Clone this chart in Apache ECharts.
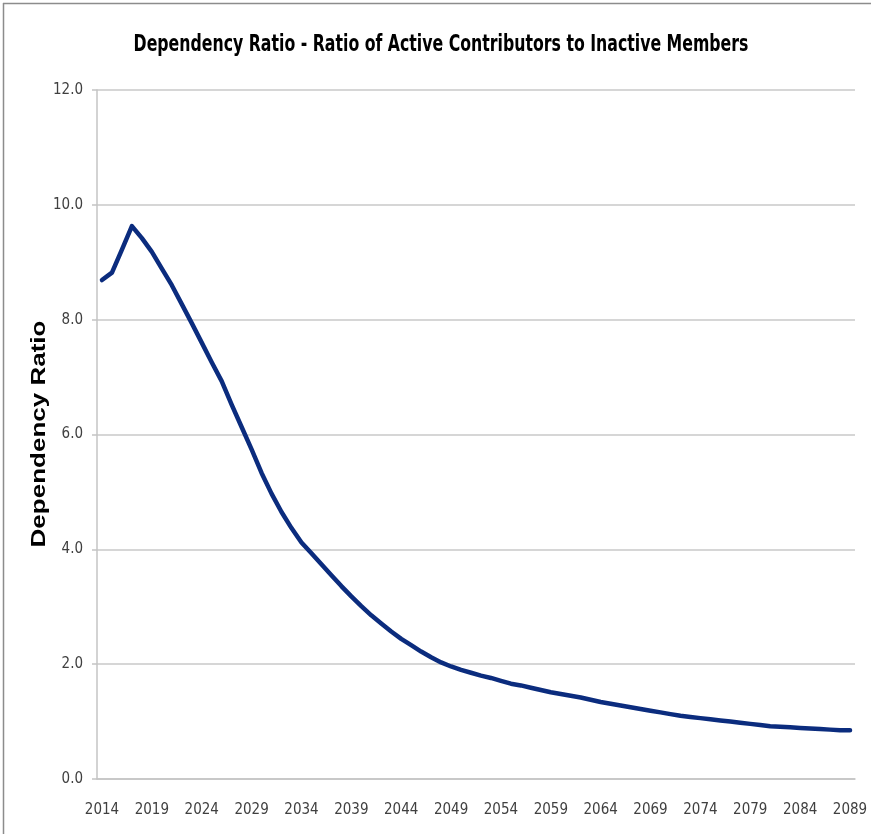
<!DOCTYPE html>
<html>
<head>
<meta charset="utf-8">
<script src="https://cdn.jsdelivr.net/npm/echarts@6/dist/echarts.min.js"></script>
<style>
  html, body { margin: 0; padding: 0; background: #fff; }
  #chart { width: 871px; height: 834px; }
</style>
</head>
<body>
<div id="chart"></div>
<script>
// Projection years 2014-2089
const years = [];
for (let y = 2014; y <= 2089; y++) years.push(String(y));

// Ratio of active contributors to inactive members, one value per year
const dependencyRatio = [
  8.69, 8.82, 9.22, 9.63, 9.42, 9.18, 8.89, 8.60, 8.27, 7.94,
  7.60, 7.26, 6.93, 6.52, 6.13, 5.74, 5.33, 4.97, 4.65, 4.37,
  4.12, 3.93, 3.74, 3.55, 3.36, 3.18, 3.01, 2.85, 2.71, 2.57,
  2.44, 2.33, 2.22, 2.12, 2.03, 1.96, 1.90, 1.85, 1.80, 1.76,
  1.71, 1.66, 1.63, 1.59, 1.55, 1.51, 1.48, 1.45, 1.42, 1.38,
  1.34, 1.31, 1.28, 1.25, 1.22, 1.19, 1.16, 1.13, 1.10, 1.08,
  1.06, 1.04, 1.02, 1.00, 0.98, 0.96, 0.94, 0.92, 0.91, 0.90,
  0.89, 0.88, 0.87, 0.86, 0.85, 0.85
];

const yTicks = { min: 0, max: 12, step: 2 };
const chartTitle = 'Dependency Ratio - Ratio of Active Contributors to Inactive Members';
const yAxisTitle = 'Dependency Ratio';

const narrowFont = '"Liberation Sans Narrow", "DejaVu Sans Condensed", sans-serif';

const chart = echarts.init(document.getElementById('chart'), null, { renderer: 'canvas' });

chart.setOption({
  backgroundColor: '#ffffff',
  animation: false,
  graphic: [
    // outer frame (top and left edges)
    { type: 'line', shape: { x1: 3, y1: 3.5, x2: 871, y2: 3.5 }, style: { stroke: '#8c8c8c', lineWidth: 1.5 } },
    { type: 'line', shape: { x1: 3.5, y1: 3, x2: 3.5, y2: 834 }, style: { stroke: '#8c8c8c', lineWidth: 1.5 } },
    // chart title, drawn slightly tall
    {
      type: 'text',
      x: 441,
      y: 45,
      scaleY: 1.3,
      style: {
        text: chartTitle,
        fontFamily: narrowFont,
        fontWeight: 'bold',
        fontSize: 17.5,
        fill: '#000000',
        align: 'center',
        verticalAlign: 'middle'
      }
    },
    // vertical axis title, stretched along its baseline
    {
      type: 'text',
      x: 39,
      y: 434,
      rotation: Math.PI / 2,
      scaleX: 1.3,
      style: {
        text: yAxisTitle,
        fontFamily: '"Liberation Sans", Arial, sans-serif',
        fontWeight: 'bold',
        fontSize: 20,
        fill: '#000000',
        align: 'center',
        verticalAlign: 'middle'
      }
    }
  ],
  grid: { left: 97, right: 16, top: 90, bottom: 55, containLabel: false },
  xAxis: {
    type: 'category',
    data: years,
    boundaryGap: true,
    axisLine: { show: true, lineStyle: { color: '#c4c4c4', width: 1.5 } },
    axisTick: { show: false },
    axisLabel: {
      interval: 4,
      margin: 24,
      fontFamily: narrowFont,
      fontSize: 15,
      color: '#404040'
    },
    splitLine: { show: false }
  },
  yAxis: {
    type: 'value',
    min: yTicks.min,
    max: yTicks.max,
    interval: yTicks.step,
    axisLine: { show: true, lineStyle: { color: '#c4c4c4', width: 1.5 } },
    axisTick: { show: true, length: 5, lineStyle: { color: '#c4c4c4', width: 1.5 } },
    axisLabel: {
      margin: 14,
      formatter: v => v.toFixed(1),
      fontFamily: narrowFont,
      fontSize: 15,
      color: '#404040'
    },
    splitLine: { show: true, lineStyle: { color: '#c8c8c8', width: 1.5 } }
  },
  series: [{
    type: 'line',
    data: dependencyRatio,
    showSymbol: false,
    symbol: 'none',
    smooth: false,
    lineStyle: { color: '#0b2c7e', width: 4.5, cap: 'round', join: 'round' }
  }]
});
</script>
</body>
</html>
